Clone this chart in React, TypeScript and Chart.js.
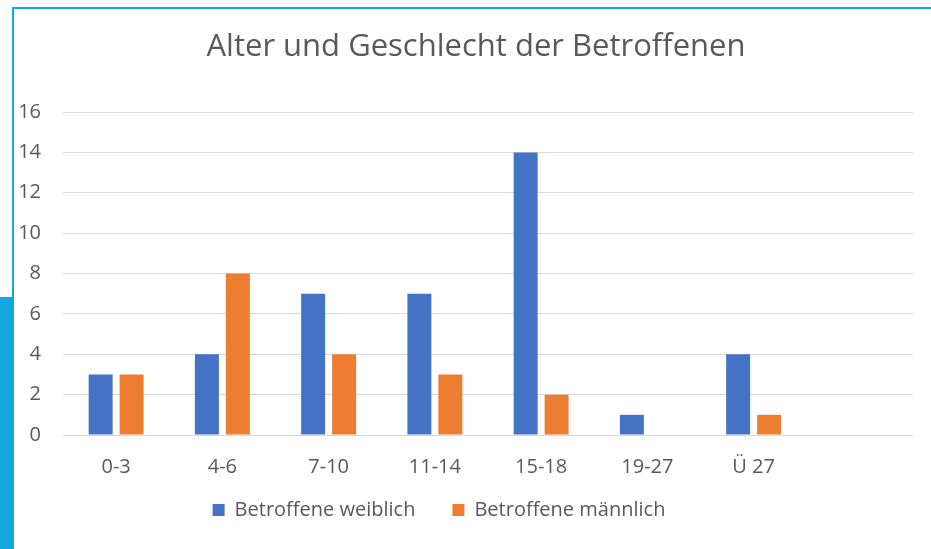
import React, { useEffect, useRef } from "react";
import { Chart, registerables } from "chart.js";

Chart.register(...registerables);

const categories = ["0-3", "4-6", "7-10", "11-14", "15-18", "19-27", "Ü 27", ""];
const weiblich = [3, 4, 7, 7, 14, 1, 4, null];
const maennlich = [3, 8, 4, 3, 2, null, 1, null];
const seriesNames = ["Betroffene weiblich", "Betroffene männlich"];
const titleText = "Alter und Geschlecht der Betroffenen";

const FONT = "'Open Sans', 'Noto Sans', sans-serif";
const TEXT = "#595959";

const shiftPlugin = {
  id: "shiftBlocks",
  afterLayout(chart: any) {
    const lg = chart.legend;
    if (lg) {
      lg.top -= 19;
      lg.bottom -= 19;
      lg.right -= 35;
      lg.width = lg.right - lg.left;
    }
    const tb = chart.titleBlock;
    if (tb) {
      tb.left = 21;
      tb.right = 931;
    }
  },
};

export default function App() {
  const ref = useRef<HTMLCanvasElement | null>(null);

  useEffect(() => {
    if (!ref.current) return;
    const chart = new Chart(ref.current, {
      type: "bar",
      data: {
        labels: categories,
        datasets: [
          {
            label: seriesNames[0],
            data: weiblich,
            backgroundColor: "#4472C4",
            categoryPercentage: 0.583,
            barPercentage: 0.774,
          },
          {
            label: seriesNames[1],
            data: maennlich,
            backgroundColor: "#ED7D31",
            categoryPercentage: 0.583,
            barPercentage: 0.774,
          },
        ],
      },
      options: {
        animation: false,
        responsive: false,
        maintainAspectRatio: false,
        layout: { padding: { left: 0, right: 18, top: 0, bottom: 0 } },
        plugins: {
          title: {
            display: true,
            text: titleText,
            color: TEXT,
            font: { family: FONT, size: 31, weight: "normal", lineHeight: 1.2 },
            padding: { top: 28.5, bottom: 46.3 },
          },
          legend: {
            position: "bottom",
            labels: {
              color: TEXT,
              font: { family: FONT, size: 20 },
              boxWidth: 12,
              boxHeight: 12,
              padding: 37,
            },
          },
          tooltip: { enabled: false },
        },
        scales: {
          x: {
            grid: { display: false, drawTicks: false },
            border: { display: false },
            ticks: { color: TEXT, font: { family: FONT, size: 20 }, padding: 20 },
            afterFit: (s: any) => {
              s.height = 47;
            },
          },
          y: {
            min: 0,
            max: 16,
            ticks: { stepSize: 2, color: TEXT, font: { family: FONT, size: 20 }, padding: 22 },
            grid: { color: "#D9D9D9", lineWidth: 1, drawTicks: false },
            border: { display: false },
            afterFit: (s: any) => {
              s.width = 63;
            },
          },
        },
      },
      plugins: [shiftPlugin],
    });
    return () => chart.destroy();
  }, []);

  return (
    <div style={{ position: "fixed", left: 0, top: 0, width: 931, height: 549, background: "#fff" }}>
      <canvas ref={ref} width={931} height={549} style={{ position: "absolute", left: 0, top: 0 }} />
      <div style={{ position: "absolute", left: 12, top: 7, width: 919, height: 2, background: "#12A9E0" }} />
      <div style={{ position: "absolute", left: 12, top: 7, width: 1.5, height: 542, background: "#12A9E0" }} />
      <div style={{ position: "absolute", left: 0, top: 297, width: 13, height: 252, background: "#12A9E0" }} />
    </div>
  );
}
